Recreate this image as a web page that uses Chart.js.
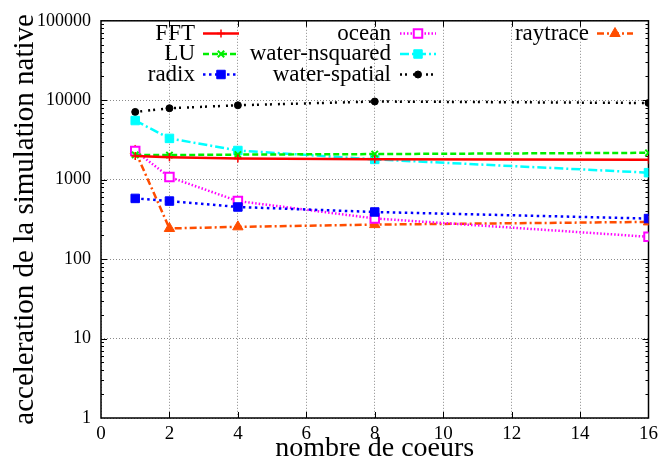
<!DOCTYPE html>
<html>
<head>
<meta charset="utf-8">
<script src="https://cdn.jsdelivr.net/npm/chart.js@4.4.1/dist/chart.umd.min.js"></script>
<style>
  html, body { margin: 0; padding: 0; background: #ffffff; }
  #wrap { width: 663px; height: 464px; }
</style>
</head>
<body>
<div id="wrap"><canvas id="c" width="663" height="464"></canvas></div>
<script>
// Number of cores and measured speed-up for each SPLASH benchmark
const cores = [1, 2, 4, 8, 16];
const fft = [1990, 1920, 1850, 1810, 1780];
const lu = [2050, 2040, 2070, 2100, 2180];
const radix = [581, 538, 453, 392, 324];
const ocean = [2300, 1080, 538, 325, 191];
const waterNsquared = [5550, 3310, 2330, 1800, 1225];
const waterSpatial = [7130, 7930, 8640, 9640, 9230];
const raytrace = [2300, 243, 255, 272, 294];

const xTicks = [0, 2, 4, 6, 8, 10, 12, 14, 16];
const yTicks = [1, 10, 100, 1000, 10000, 100000];

const xTitle = 'nombre de coeurs';
const yTitle = 'acceleration de la simulation native';

const serif = "'Liberation Serif', 'Times New Roman', serif";

function pts(values) {
  return cores.map((c, i) => ({ x: c, y: values[i] }));
}

function series(label, values, color, dash, style, radius, fill, pbw) {
  return {
    label: label,
    data: pts(values),
    borderColor: color,
    backgroundColor: color,
    borderWidth: 2.5,
    borderDash: dash,
    pointStyle: style,
    pointRadius: radius,
    pointHoverRadius: radius,
    pointBackgroundColor: fill,
    pointBorderColor: color,
    pointBorderWidth: pbw,
    tension: 0,
    fill: false
  };
}

const datasets = [
  series('FFT', fft, '#ff0000', [], 'cross', 4, '#ff0000', 1.5),
  series('LU', lu, '#00ee00', [6, 3], 'crossRot', 4.5, '#00ee00', 2),
  series('radix', radix, '#0000ff', [2.5, 3.5], 'rect', 6, '#0000ff', 1),
  series('ocean', ocean, '#ff00ff', [1.5, 2], 'rect', 6, '#ffffff', 2),
  series('water-nsquared', waterNsquared, '#00ffff', [9, 3, 2, 3], 'rect', 6, '#00ffff', 1),
  series('water-spatial', waterSpatial, '#000000', [2, 3, 2, 6], 'circle', 3.5, '#000000', 1),
  series('raytrace', raytrace, '#ff4d00', [7, 3, 2, 3], 'triangle', 6, '#ff4d00', 1)
];

// Key laid out in three columns: label right-aligned, then a line sample with its marker
const keyLayout = {
  textRight: [195, 391, 589],
  sampleLeft: [203, 400, 597],
  sampleLen: 36,
  rows: [33.5, 54, 74.5]
};

const framePlugin = {
  id: 'frame',
  beforeDatasetsDraw(chart) {
    const { ctx, chartArea: a, scales: { x, y } } = chart;
    ctx.save();
    ctx.strokeStyle = '#000000';
    ctx.lineWidth = 1;
    ctx.setLineDash([]);
    ctx.beginPath();
    xTicks.slice(1, -1).forEach(v => {
      const px = Math.round(x.getPixelForValue(v)) + 0.5;
      ctx.moveTo(px, a.bottom); ctx.lineTo(px, a.bottom - 6);
      ctx.moveTo(px, a.top); ctx.lineTo(px, a.top + 6);
    });
    for (let d = 0; d < 5; d++) {
      for (let k = 1; k < 10; k++) {
        const v = k * Math.pow(10, d);
        if (v === 1) continue;
        const len = k === 1 ? 6 : 3;
        const py = Math.round(y.getPixelForValue(v)) + 0.5;
        ctx.moveTo(a.left, py); ctx.lineTo(a.left + len, py);
        ctx.moveTo(a.right, py); ctx.lineTo(a.right - len, py);
      }
    }
    ctx.stroke();
    ctx.lineWidth = 1.5;
    ctx.strokeRect(a.left, a.top, a.right - a.left, a.bottom - a.top);

    // vertical axis title, read bottom to top, centred on the plot height
    ctx.fillStyle = '#000000';
    ctx.font = '29px ' + serif;
    ctx.textAlign = 'center';
    ctx.textBaseline = 'alphabetic';
    ctx.translate(33, (a.top + a.bottom) / 2);
    ctx.rotate(-Math.PI / 2);
    ctx.fillText(yTitle, 0, 0);
    ctx.restore();
  },
  afterDatasetsDraw(chart) {
    const ctx = chart.ctx;
    ctx.save();
    ctx.font = '23px ' + serif;
    ctx.textAlign = 'right';
    ctx.textBaseline = 'middle';
    chart.data.datasets.forEach((ds, i) => {
      const col = Math.floor(i / 3);
      const row = i % 3;
      const yy = keyLayout.rows[row];
      ctx.fillStyle = '#000000';
      ctx.fillText(ds.label, keyLayout.textRight[col], yy);
      const x0 = keyLayout.sampleLeft[col];
      const x1 = x0 + keyLayout.sampleLen;
      ctx.strokeStyle = ds.borderColor;
      ctx.lineWidth = ds.borderWidth;
      ctx.setLineDash(ds.borderDash);
      ctx.beginPath();
      ctx.moveTo(x0, yy); ctx.lineTo(x1, yy);
      ctx.stroke();
      ctx.setLineDash([]);
      ctx.fillStyle = ds.pointBackgroundColor;
      ctx.strokeStyle = ds.pointBorderColor;
      ctx.lineWidth = ds.pointBorderWidth;
      Chart.helpers.drawPoint(ctx, {
        pointStyle: ds.pointStyle,
        radius: ds.pointRadius,
        borderWidth: ds.pointBorderWidth,
        rotation: 0
      }, (x0 + x1) / 2, yy);
    });
    ctx.restore();
  }
};

new Chart(document.getElementById('c'), {
  type: 'line',
  data: { datasets: datasets },
  options: {
    responsive: false,
    animation: false,
    events: [],
    layout: { padding: { left: 0, right: 14, top: 17, bottom: 0 } },
    plugins: { legend: { display: false }, tooltip: { enabled: false } },
    scales: {
      x: {
        type: 'linear',
        min: 0,
        max: 16,
        afterBuildTicks: s => { s.ticks = xTicks.map(v => ({ value: v })); },
        afterFit: s => { s.height = 46; },
        ticks: {
          color: '#000000',
          font: { family: serif, size: 19 },
          padding: 5,
          maxRotation: 0
        },
        grid: { color: '#8a8a8a', lineWidth: 1, drawTicks: false },
        border: { display: false, dash: [1, 2] },
        title: {
          display: true,
          text: xTitle,
          color: '#000000',
          font: { family: serif, size: 28, lineHeight: 1 },
          padding: { top: 0, bottom: 1.5 }
        }
      },
      y: {
        type: 'logarithmic',
        min: 1,
        max: 100000,
        afterBuildTicks: s => { s.ticks = yTicks.map(v => ({ value: v })); },
        afterFit: s => { s.width = 101; },
        ticks: {
          color: '#000000',
          font: { family: serif, size: 18 },
          padding: 10,
          callback: v => String(v)
        },
        grid: { color: '#8a8a8a', lineWidth: 1, drawTicks: false },
        border: { display: false, dash: [1, 2] }
      }
    }
  },
  plugins: [framePlugin]
});
</script>
</body>
</html>
